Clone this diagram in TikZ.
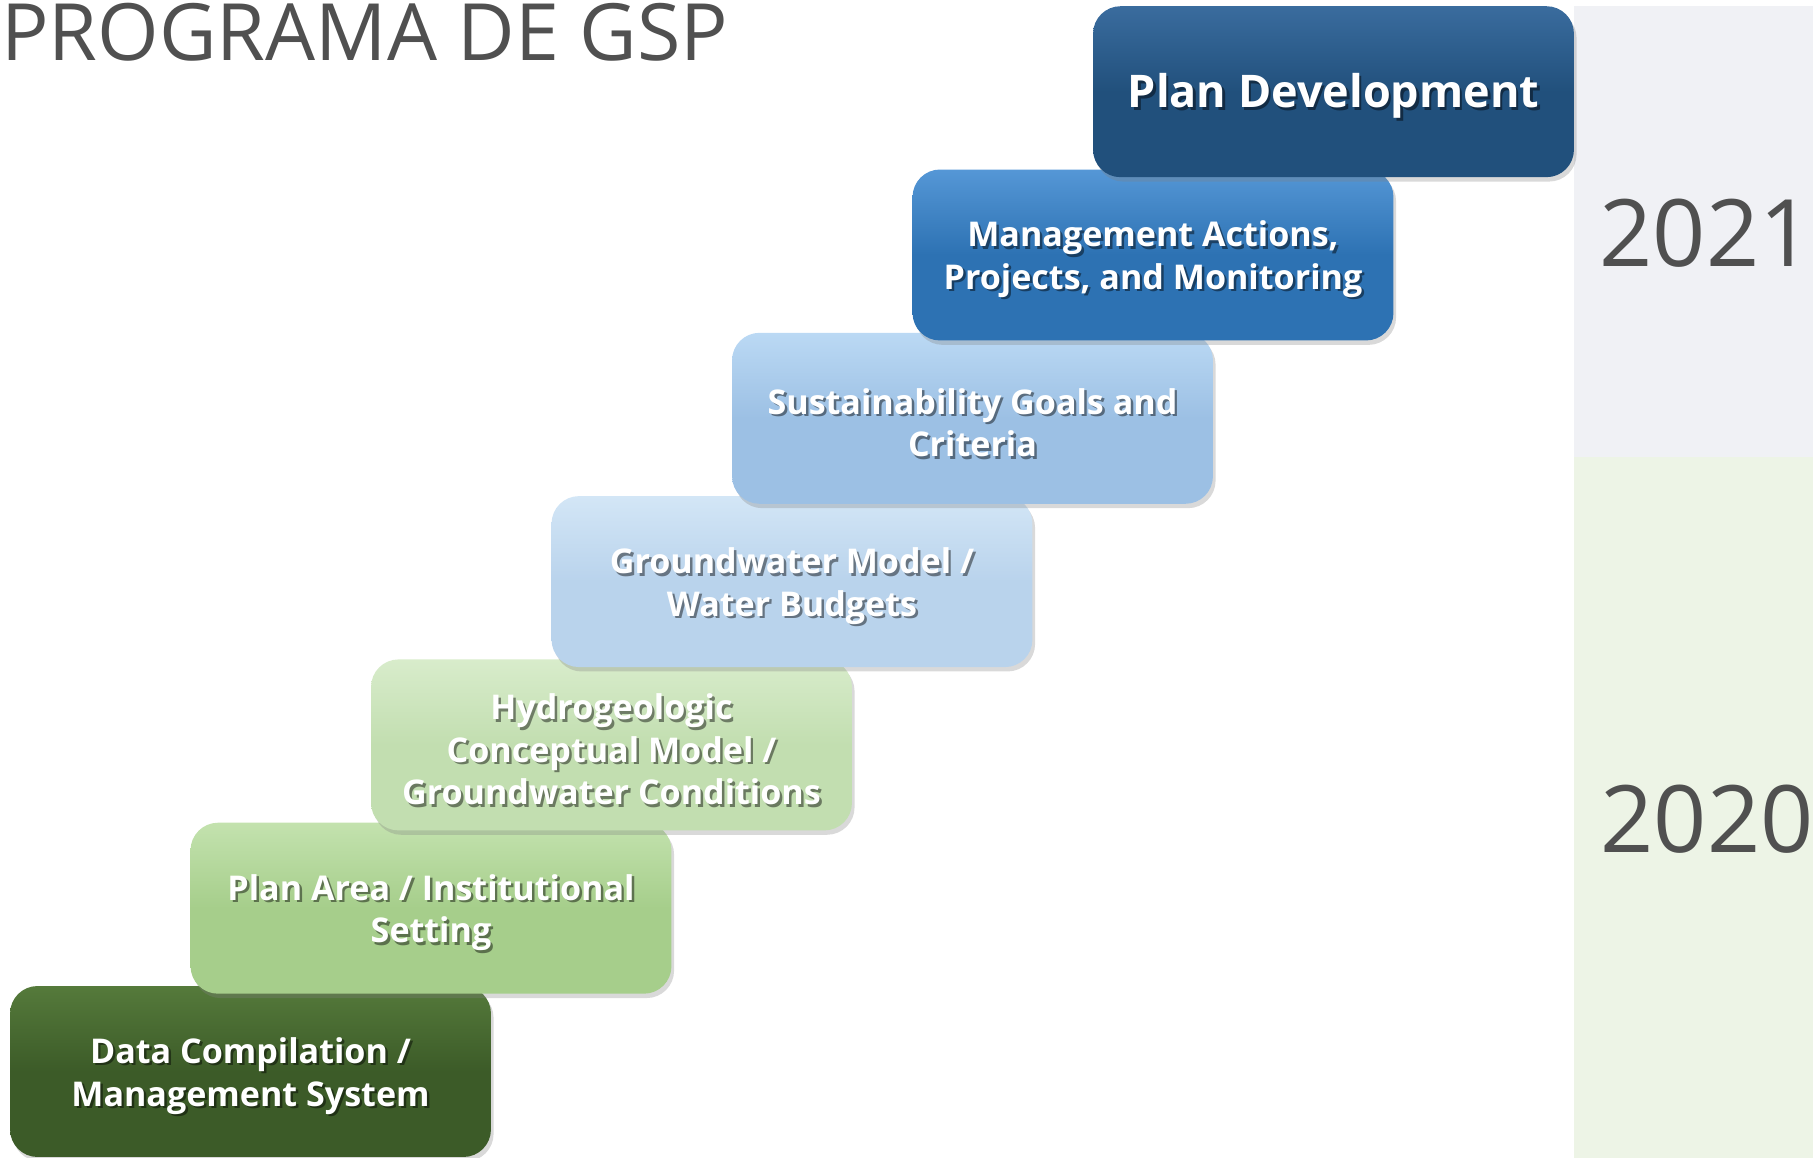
\documentclass[tikz,border=0pt]{standalone}
\usepackage{fontspec}
\setmainfont{Open Sans}
\usepackage{tikz}
\usetikzlibrary{shadows}
\usetikzlibrary{positioning}

\definecolor{titlegray}{HTML}{505050}
\definecolor{band21}{HTML}{F0F1F5}
\definecolor{band20}{HTML}{EDF4E6}
\definecolor{datatop}{HTML}{557A3B}
\definecolor{databot}{HTML}{3C5B28}
\definecolor{areatop}{HTML}{C3E2AE}
\definecolor{areabot}{HTML}{A6CE8B}
\definecolor{hydrotop}{HTML}{D8ECCB}
\definecolor{hydrobot}{HTML}{C2DEB0}
\definecolor{gwtop}{HTML}{D3E6F6}
\definecolor{gwbot}{HTML}{B9D3EC}
\definecolor{sustop}{HTML}{BBD9F4}
\definecolor{susbot}{HTML}{9CC0E4}
\definecolor{mgmttop}{HTML}{5597D6}
\definecolor{mgmtbot}{HTML}{2D72B3}
\definecolor{devtop}{HTML}{3A6C9E}
\definecolor{devbot}{HTML}{21507C}

% label with a soft text shadow
\newcommand{\gsplabel}[3][]{%
  \node[gspshade, #1] at ([shift={(1.4pt,-3.9pt)}]#2.center) {#3};
  \node[gsptext, #1] (#2-txt) at ([yshift=-2.5pt]#2.center) {#3};}

\begin{document}
\begin{tikzpicture}[x=0.02cm, y=-0.02cm,
  gspbox/.style={rounded corners=0.55cm, minimum width=9.62cm, minimum height=3.42cm, inner sep=0pt,
    drop shadow={shadow xshift=1.5pt, shadow yshift=-2.5pt, opacity=0.3}},
  gsptext/.style={text=white, align=center, inner sep=0pt, font=\bfseries\fontsize{19.4}{24.2}\selectfont},
  gspshade/.style={gsptext, text=black, text opacity=0.45},
  bigtext/.style={font=\bfseries\fontsize{25.6}{30}\selectfont},
  yearlabel/.style={anchor=base, inner sep=0pt, text=titlegray, font=\fontsize{53}{60}\selectfont}]

        \useasboundingbox (0,0) rectangle (1813,1158);

        % Step sizes between boxes
        \def\hstep{180.5}
        \def\vstep{163.3}

        % Year bands
        \fill[band21] (1574,6) rectangle (1813,457);
        \fill[band20] (1574,457) rectangle (1813,1158);

        \node[yearlabel] (y2021) at (1706,267) {2021};
        \node[yearlabel] (y2020) at (1707,852) {2020};

        % Title
        \node[anchor=base west, inner sep=0pt, text=titlegray, font=\fontsize{45}{50}\selectfont] (title) at (1,61) {PROGRAMA DE GSP};

        % Stairs, from the bottom up
        \node[gspbox, top color=datatop, bottom color=databot, middle color=databot] (data) at (250.5,1071.5) {};
        \gsplabel{data}{Data Compilation /\\Management System}

        \node[gspbox, top color=areatop, bottom color=areabot, middle color=areabot] (area) at ([shift={(\hstep,-\vstep)}]data) {};
        \gsplabel{area}{Plan Area / Institutional\\Setting}

        \node[gspbox, top color=hydrotop, bottom color=hydrobot, middle color=hydrobot] (hydro) at ([shift={(\hstep,-\vstep)}]area) {};
        \gsplabel{hydro}{Hydrogeologic\\Conceptual Model /\\Groundwater Conditions}

        \node[gspbox, top color=gwtop, bottom color=gwbot, middle color=gwbot] (gwmodel) at ([shift={(\hstep,-\vstep)}]hydro) {};
        \gsplabel{gwmodel}{Groundwater Model /\\Water Budgets}

        \node[gspbox, top color=sustop, bottom color=susbot, middle color=susbot] (goals) at ([shift={(\hstep,-\vstep)}]gwmodel) {};
        \gsplabel{goals}{Sustainability Goals and\\Criteria}

        \node[gspbox, top color=mgmttop, bottom color=mgmtbot, middle color=mgmtbot] (actions) at ([shift={(\hstep,-\vstep)}]goals) {};
        \gsplabel{actions}{Management Actions,\\Projects, and Monitoring}

        \node[gspbox, top color=devtop, bottom color=devbot, middle color=devbot] (plandev) at ([shift={(\hstep,-\vstep)}]actions) {};
        \gsplabel[bigtext]{plandev}{Plan Development}

\end{tikzpicture}
\end{document}
